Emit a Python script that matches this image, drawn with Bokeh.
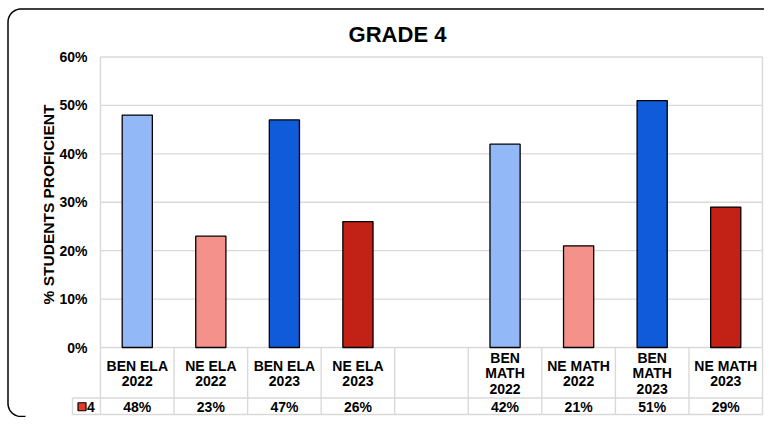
import numpy as np
from bokeh.plotting import figure
from bokeh.models import Range1d
from bokeh.core.properties import value
from bokeh.embed import file_html
from bokeh.resources import INLINE

# ---------------- data ----------------
categories = ["BEN ELA\n2022", "NE ELA\n2022", "BEN ELA\n2023", "NE ELA\n2023", "",
              "BEN\nMATH\n2022", "NE MATH\n2022", "BEN\nMATH\n2023", "NE MATH\n2023"]
values = [48, 23, 47, 26, None, 42, 21, 51, 29]
bar_colors = ["#93B8F8", "#F3918A", "#0F5BDA", "#C22216", None,
              "#93B8F8", "#F3918A", "#0F5BDA", "#C22216"]
y_ticks = [0, 10, 20, 30, 40, 50, 60]
series_name = "4"
title_text = "GRADE 4"
y_label = "% STUDENTS PROFICIENT"

# ---------------- layout (canvas pixels -> data) ----------------
W, H = 764, 417
PY60 = 56.5            # canvas y of 60%
PY0 = 347.0            # canvas y of 0%
KY = (PY0 - PY60) / 60.0
PX0 = 100.0            # canvas x of plot left
PX9 = 762.0            # canvas x of plot right
XS = (PX9 - PX0) / 9.0

def yd(py):
    return (PY0 - py) / KY

def xd(px):
    return (px - PX0) / XS

FONT = value("Liberation Sans")
GRID = "#D9D9D9"

p = figure(width=W, height=H, output_backend="svg", toolbar_location=None,
           x_range=Range1d(xd(0), xd(W)), y_range=Range1d(yd(H), yd(0)),
           min_border=0, min_border_left=0, min_border_right=0,
           min_border_top=0, min_border_bottom=0)
p.axis.visible = False
p.grid.visible = False
p.outline_line_color = None
p.background_fill_color = "white"
p.border_fill_color = "white"

n = len(categories)
ymax = y_ticks[-1]

# gridlines
p.segment(x0=[0] * len(y_ticks), x1=[n] * len(y_ticks), y0=y_ticks, y1=y_ticks,
          line_color=GRID, line_width=1.4)
# plot area side borders
p.segment(x0=[0, n], x1=[0, n], y0=[0, 0], y1=[ymax, ymax], line_color=GRID, line_width=1.4)

# bars
idx = [i for i, v in enumerate(values) if v is not None]
p.vbar(x=[i + 0.5 for i in idx], top=[values[i] for i in idx], bottom=0, width=0.41,
       fill_color=[bar_colors[i] for i in idx], line_color="black", line_width=1.3)

# data table
hdr_bot = 397.5
val_bot = 414.0
p.segment(x0=list(range(n + 1)), x1=list(range(n + 1)),
          y0=[0] * (n + 1), y1=[yd(val_bot)] * (n + 1), line_color=GRID, line_width=1.4)
p.segment(x0=[xd(72)], x1=[xd(72)], y0=[yd(hdr_bot)], y1=[yd(val_bot)], line_color=GRID, line_width=1.4)
p.segment(x0=[xd(72), xd(72)], x1=[n, n], y0=[yd(hdr_bot), yd(val_bot)],
          y1=[yd(hdr_bot), yd(val_bot)], line_color=GRID, line_width=1.4)

# header labels
hx, hy, ht = [], [], []
hdr_mid = (PY0 + hdr_bot) / 2.0 + 0.5
for i, lab in enumerate(categories):
    if not lab:
        continue
    lines = lab.split("\n")
    m = len(lines)
    for j, ln in enumerate(lines):
        hx.append(i + 0.5)
        hy.append(yd(hdr_mid + (j - (m - 1) / 2.0) * 15.5))
        ht.append(ln)
p.text(x=hx, y=hy, text=ht, text_font=FONT, text_font_style="bold", text_font_size="14px",
       text_align="center", text_baseline="middle", text_color="black")

# value row
val_mid = (hdr_bot + val_bot) / 2.0 + 0.5
p.text(x=[i + 0.5 for i in idx], y=[yd(val_mid)] * len(idx), text=[f"{values[i]}%" for i in idx],
       text_font=FONT, text_font_style="bold", text_font_size="14px",
       text_align="center", text_baseline="middle", text_color="black")

# legend key
p.quad(left=[xd(77.5)], right=[xd(85.5)], bottom=[yd(val_mid + 4)], top=[yd(val_mid - 4)],
       fill_color="#E8382C", line_color="black", line_width=1.2)
p.text(x=[xd(86.5)], y=[yd(val_mid)], text=[series_name], text_font=FONT, text_font_style="bold",
       text_font_size="14px", text_align="left", text_baseline="middle", text_color="black")

# y tick labels
p.text(x=[xd(87)] * len(y_ticks), y=y_ticks, text=[f"{t}%" for t in y_ticks], text_font=FONT,
       text_font_style="bold", text_font_size="14px", text_align="right", text_baseline="middle",
       text_color="black")

# y axis label
p.text(x=[xd(48)], y=[yd(204)], text=[y_label], angle=np.pi / 2, text_font=FONT,
       text_font_style="bold", text_font_size="15.5px", text_align="center",
       text_baseline="middle", text_color="black")

# title
p.text(x=[xd(397)], y=[yd(34)], text=[title_text], text_font=FONT, text_font_style="bold",
       text_font_size="22px", text_align="center", text_baseline="middle", text_color="black")

# rounded container border (left edge with two rounded corners, top edge)
r = 13.0
left, top, bot, right = 7.5, 8.5, 416.0, 770.0
t = np.linspace(0, np.pi / 2, 14)
px_list = ([25.0] + [left + r - r * np.sin(a) for a in t] +
           [left + r - r * np.cos(a) for a in t] + [right])
py_list = ([bot] + [bot - r + r * np.cos(a) for a in t] +
           [top + r - r * np.sin(a) for a in t] + [top])
p.line(x=[xd(v) for v in px_list], y=[yd(v) for v in py_list], line_color="black", line_width=1.5)

open("out.html", "w").write(file_html(p, INLINE))
